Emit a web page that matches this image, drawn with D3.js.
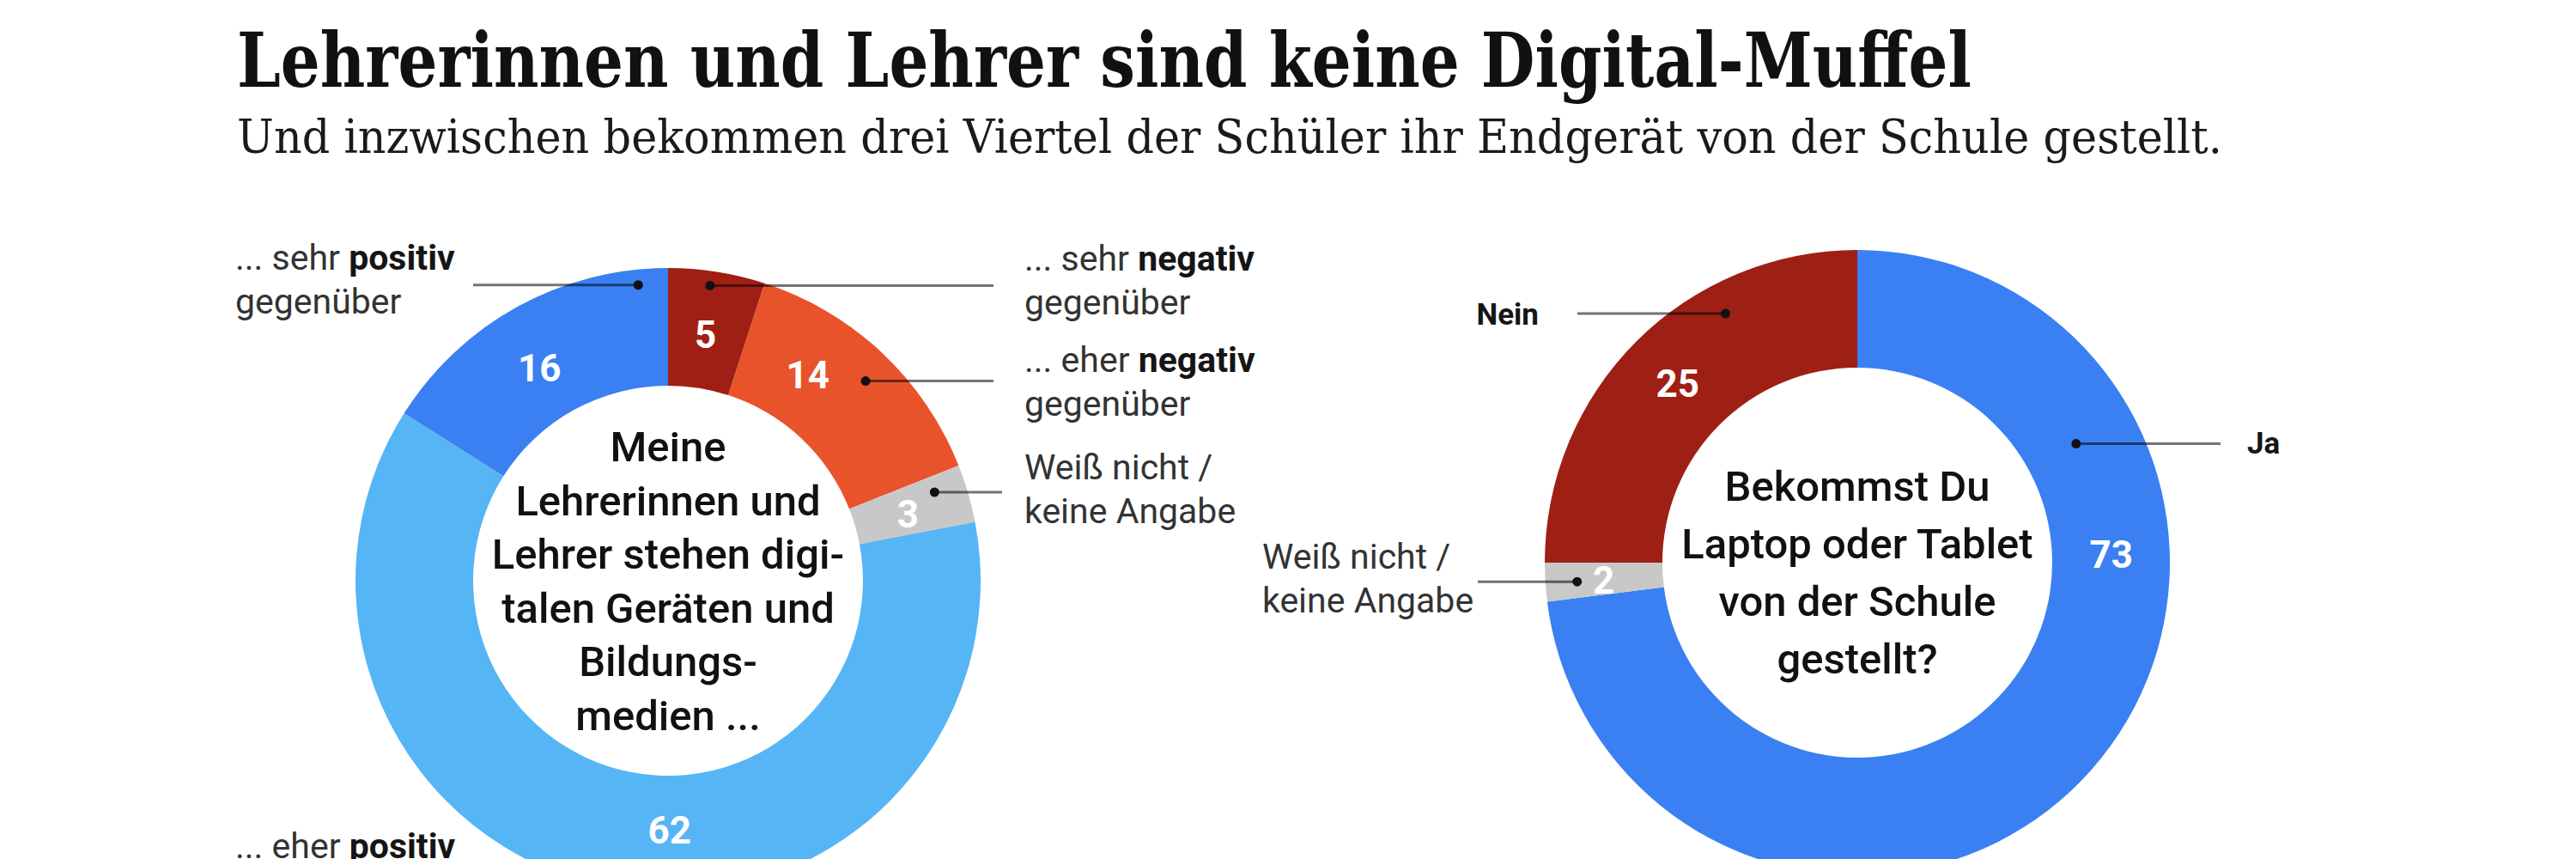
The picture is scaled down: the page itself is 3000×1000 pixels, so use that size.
<!DOCTYPE html>
<html><head><meta charset="utf-8">
<script src="https://cdn.jsdelivr.net/npm/d3@7"></script>
<style>body{margin:0;background:#fff}</style>
</head><body><svg id="c" width="3000" height="1000"></svg>
<script>
// ---------- data ----------
const title = "Lehrerinnen und Lehrer sind keine Digital-Muffel";
const subtitle = "Und inzwischen bekommen drei Viertel der Schüler ihr Endgerät von der Schule gestellt.";

const leftCategories = ["sehr negativ", "eher negativ", "Weiß nicht / keine Angabe", "eher positiv", "sehr positiv"];
const leftValues = [5, 14, 3, 62, 16];
const leftCenterText = ["Meine", "Lehrerinnen und", "Lehrer stehen digi-", "talen Geräten und", "Bildungs-", "medien ..."];
const leftLabelLines = [
  [[["... sehr ", false], ["negativ", true]], [["gegenüber", false]]],
  [[["... eher ", false], ["negativ", true]], [["gegenüber", false]]],
  [[["Weiß nicht /", false]], [["keine Angabe", false]]],
  [[["... eher ", false], ["positiv", true]], [["gegenüber", false]]],
  [[["... sehr ", false], ["positiv", true]], [["gegenüber", false]]]
];

const rightCategories = ["Ja", "Weiß nicht / keine Angabe", "Nein"];
const rightValues = [73, 2, 25];
const rightCenterText = ["Bekommst Du", "Laptop oder Tablet", "von der Schule", "gestellt?"];
const rightLabelLines = [
  [[["Ja", true]]],
  [[["Weiß nicht /", false]], [["keine Angabe", false]]],
  [[["Nein", true]]]
];

// ---------- styles / layout ----------
const leftColors = ["#a01f15", "#e8532b", "#c8c8c8", "#56b5f5", "#3a80f2"];
const rightColors = ["#3a80f2", "#c8c8c8", "#9e1f14"];

const leftLayout = {
  cx: 778, cy: 676, R: 364, r: 227, valueR: 290,
  centerBase: 537, centerStep: 62.5,
  slices: [
    { vt: 0.48, dot: { t: 0.45, r: 347 }, lx: 1193, ly: 315, lineTo: 1157, anchor: "start", fs: 41 },
    { vt: 0.32, dot: { t: 0.53, r: 327 }, lx: 1193, ly: 433, lineTo: 1157, anchor: "start", fs: 41 },
    { vt: 0.56, dot: { t: 0.30, r: 327 }, lx: 1193, ly: 558, lineTo: 1167, anchor: "start", fs: 41 },
    { vt: 0.45, dot: { t: 0.52, r: 345 }, lx: 274, ly: 999, lineTo: 540, anchor: "start", fs: 41 },
    { vt: 0.46, dot: { t: 0.90, r: 346 }, lx: 274, ly: 314, lineTo: 551, anchor: "start", fs: 41 }
  ]
};
const rightLayout = {
  cx: 2163, cy: 655, R: 364, r: 227, valueR: 296,
  centerBase: 583, centerStep: 67,
  slices: [
    { vt: 0.335, dot: { t: 0.234, r: 290 }, lx: 2617, ly: 528, lineTo: 2586, anchor: "start", fs: 35 },
    { vt: 0.47, dot: { t: 0.46, r: 327 }, lx: 1470, ly: 662, lineTo: 1721, anchor: "start", fs: 41 },
    { vt: 0.5, dot: { t: 0.69, r: 328 }, lx: 1792, ly: 378, lineTo: 1837, anchor: "end", fs: 35 }
  ]
};

const svg = d3.select("#c");

// title & subtitle
svg.append("text").attr("x", 276).attr("y", 101)
  .attr("font-family", "'DejaVu Serif', serif").attr("font-weight", 700)
  .attr("font-size", 88).attr("fill", "#111")
  .attr("textLength", 2020).attr("lengthAdjust", "spacingAndGlyphs")
  .text(title);
svg.append("text").attr("x", 276).attr("y", 178)
  .attr("font-family", "'DejaVu Serif', serif").attr("font-weight", 400)
  .attr("font-size", 54).attr("fill", "#1a1a1a")
  .attr("textLength", 2312).attr("lengthAdjust", "spacingAndGlyphs")
  .text(subtitle);

function donut(values, cats, colors, L, labelLines, centerText) {
  const pie = d3.pie().sort(null).value(d => d)(values);
  const g = svg.append("g").attr("transform", `translate(${L.cx},${L.cy})`);
  const arc = d3.arc().innerRadius(L.r).outerRadius(L.R);
  g.selectAll("path.slice").data(pie).join("path")
    .attr("class", "slice").attr("d", arc).attr("fill", (d, i) => colors[i]);

  const at = (d, t) => d.startAngle + t * (d.endAngle - d.startAngle);
  const pointAt = (a, rad) => d3.arc().innerRadius(rad).outerRadius(rad).startAngle(a).endAngle(a).centroid();

  // leader lines & dots
  pie.forEach((d, i) => {
    const s = L.slices[i];
    const p = pointAt(at(d, s.dot.t), s.dot.r);
    const x = L.cx + p[0], y = L.cy + p[1];
    svg.append("line").attr("x1", x).attr("y1", y).attr("x2", s.lineTo).attr("y2", y)
      .attr("stroke", "#000").attr("stroke-opacity", 0.55).attr("stroke-width", 3);
    svg.append("circle").attr("cx", x).attr("cy", y).attr("r", 5.5).attr("fill", "#111");
  });

  // value labels
  g.selectAll("text.val").data(pie).join("text").attr("class", "val")
    .attr("transform", (d, i) => {
      const p = pointAt(at(d, L.slices[i].vt), L.valueR);
      return `translate(${p[0]},${p[1]})`;
    })
    .attr("text-anchor", "middle").attr("dy", "0.36em")
    .attr("font-family", "Roboto, sans-serif").attr("font-weight", 700)
    .attr("font-size", 44).attr("fill", "#fff")
    .text(d => d.data);

  // category labels
  labelLines.forEach((lines, i) => {
    const s = L.slices[i];
    const t = svg.append("text").attr("font-family", "Roboto, sans-serif")
      .attr("font-size", s.fs).attr("text-anchor", s.anchor).attr("fill", "#333");
    lines.forEach((parts, li) => {
      parts.forEach((pt, pi) => {
        const ts = t.append("tspan").text(pt[0])
          .attr("font-weight", pt[1] ? 700 : 400).attr("fill", pt[1] ? "#151515" : "#333");
        if (pi === 0) ts.attr("x", s.lx).attr("y", s.ly + li * 51);
      });
    });
  });

  // center text
  svg.append("g").selectAll("text").data(centerText).join("text")
    .attr("x", L.cx).attr("y", (d, i) => L.centerBase + i * L.centerStep)
    .attr("text-anchor", "middle").attr("font-family", "Roboto, sans-serif")
    .attr("font-weight", 500).attr("font-size", 49).attr("fill", "#111")
    .text(d => d);
}

donut(leftValues, leftCategories, leftColors, leftLayout, leftLabelLines, leftCenterText);
donut(rightValues, rightCategories, rightColors, rightLayout, rightLabelLines, rightCenterText);
</script>
</body></html>
